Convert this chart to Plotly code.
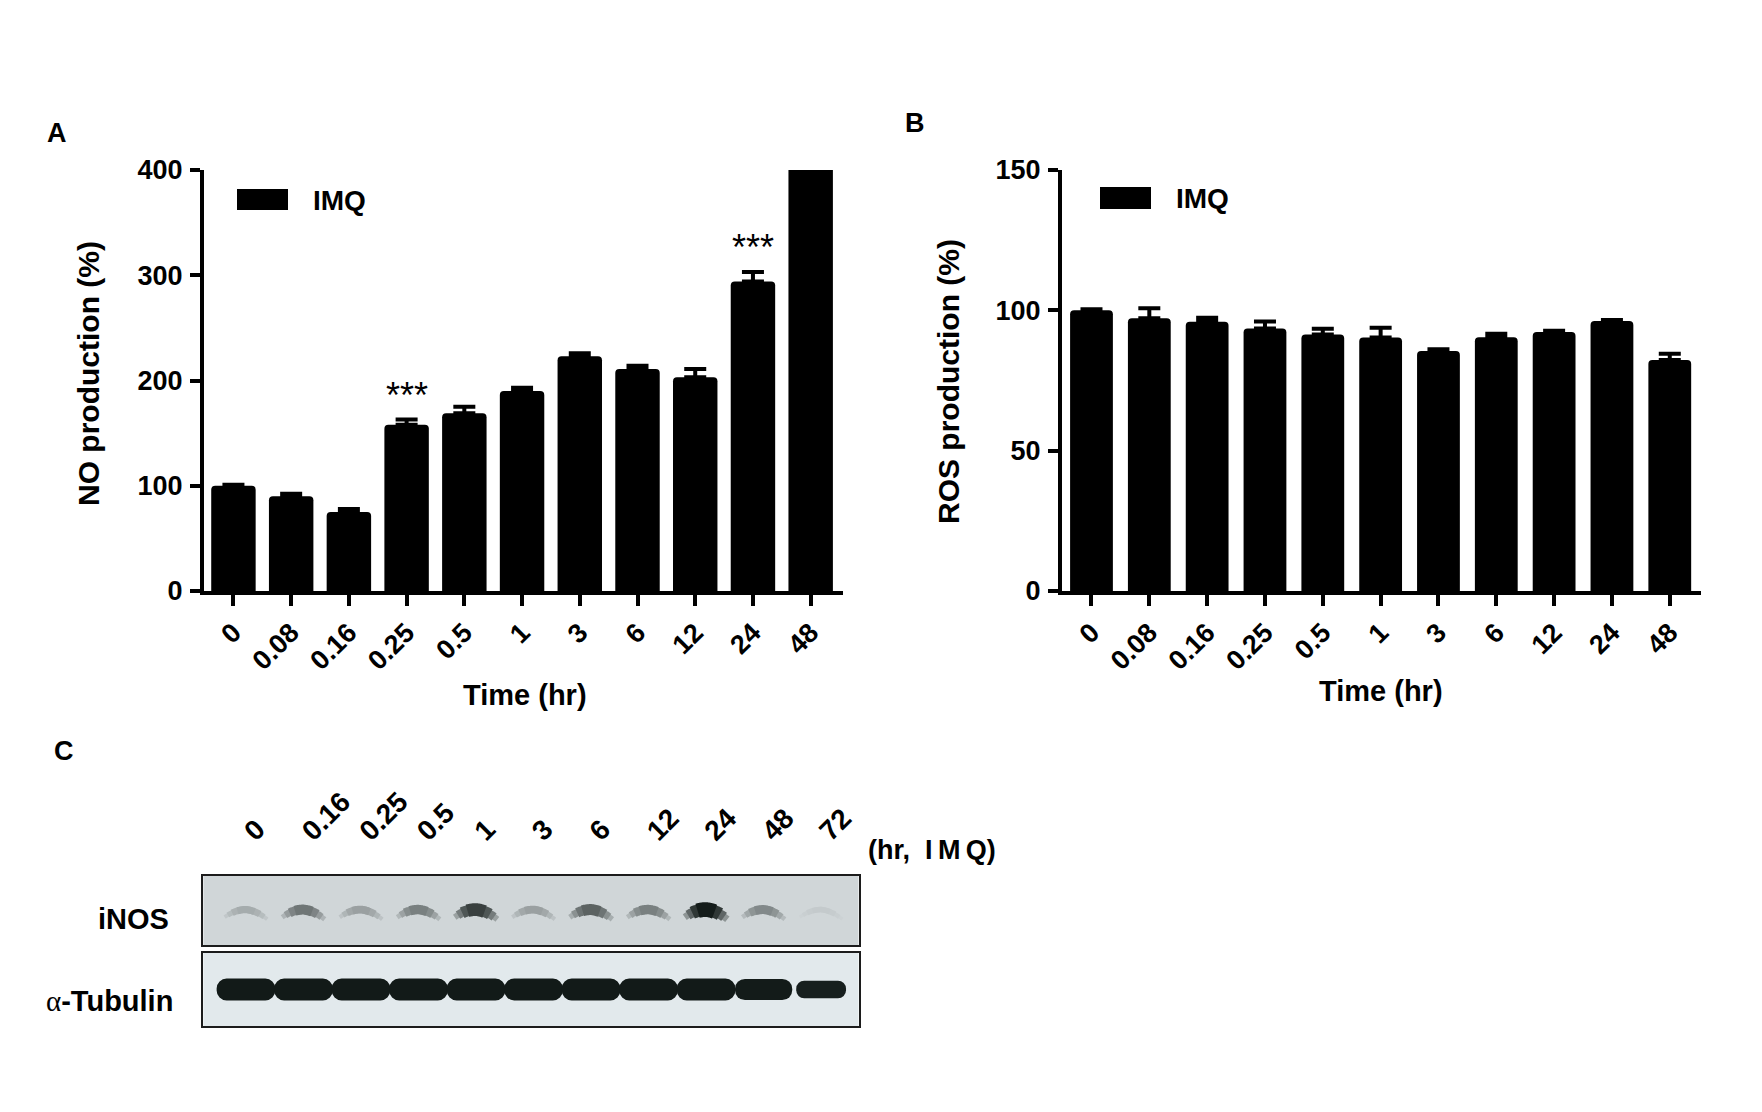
import numpy as np
import plotly.graph_objects as go

# ---------------- data ----------------
time_labels = ["0", "0.08", "0.16", "0.25", "0.5", "1", "3", "6", "12", "24", "48"]
no_values = [100, 90, 75, 158, 169, 190, 223, 211, 203, 294, 430]
no_errors = [1, 2.5, 3, 5, 6, 3, 3, 3, 8, 9, 0]
ros_values = [100, 97.2, 95.9, 93.5, 91.4, 90.3, 85.5, 90.4, 92.3, 96.2, 82.3]
ros_errors = [0.4, 3.5, 1.5, 2.5, 2.0, 3.5, 0.6, 1.3, 0.4, 0.4, 2.2]
no_yticks = [0, 100, 200, 300, 400]
ros_yticks = [0, 50, 100, 150]
signif_times = ["0.25", "24"]
signif_text = "***"

blot_lanes = ["0", "0.16", "0.25", "0.5", "1", "3", "6", "12", "24", "48", "72"]
inos_signal = [0.22, 0.50, 0.28, 0.45, 0.78, 0.28, 0.60, 0.45, 0.97, 0.40, 0.06]
tubulin_signal = [1.0, 1.0, 1.0, 1.0, 1.0, 1.0, 1.0, 1.0, 1.0, 0.97, 0.80]

# ---------------- layout helpers ----------------
# The page body keeps its default 8 px margin, so the figure is shrunk by
# 16 px and every reference-pixel position is shifted by 8 px.
OFF = 8
W, H = 1762 - 2 * OFF, 1112 - 2 * OFF
FONT = "Liberation Sans, Arial, sans-serif"


def px(x):
    return (x - OFF) / W


def py(y):
    return (H - (y - OFF)) / H


fig = go.Figure()

err_style = dict(type="data", symmetric=False, thickness=4, width=11, color="black")

fig.add_trace(go.Bar(
    x=time_labels, y=no_values, xaxis="x", yaxis="y", width=0.77,
    marker=dict(color="black", line=dict(width=0), cornerradius=4),
    error_y=dict(array=no_errors, arrayminus=[0] * len(no_errors), **err_style),
    showlegend=False, hoverinfo="skip"))

fig.add_trace(go.Bar(
    x=time_labels, y=ros_values, xaxis="x2", yaxis="y2", width=0.74,
    marker=dict(color="black", line=dict(width=0), cornerradius=4),
    error_y=dict(array=ros_errors, arrayminus=[0] * len(ros_errors), **err_style),
    showlegend=False, hoverinfo="skip"))

# ---------------- western blot (panel C) ----------------
inos_bg = np.array([208, 214, 216])
tub_bg = np.array([226, 233, 236])
dark = np.array([14, 22, 20])


def shade(bg, d):
    c = bg * (1 - d) + dark * d
    return "rgb(%d,%d,%d)" % tuple(int(round(v)) for v in c)


lane_idx = np.arange(len(blot_lanes))
for i, d in zip(lane_idx, inos_signal):
    for span, wbase, wgain, frac in [(1.0, 3, 4, 0.35), (0.85, 4, 6, 0.6), (0.65, 5, 8, 0.85),
                                     (0.4, 5, 10, 1.0)]:
        t = np.linspace(-span, span, 25)
        xs = i + 0.37 * t
        ys = 0.40 + 0.11 * (1 - t ** 2) - 0.03 * np.clip(t, 0, None)
        fig.add_trace(go.Scatter(x=xs, y=ys, xaxis="x3", yaxis="y3", mode="lines",
                                 line=dict(color=shade(inos_bg, d * frac), width=wbase + wgain * d,
                                           shape="spline"),
                                 showlegend=False, hoverinfo="skip"))

tub_heights = [0.30 * s for s in tubulin_signal]
tub_bases = [0.50 - h / 2 for h in tub_heights]
tub_widths = [0.25 + 0.77 * s for s in tubulin_signal]
fig.add_trace(go.Bar(
    x=lane_idx, y=tub_heights, base=tub_bases, width=tub_widths, xaxis="x4", yaxis="y4",
    marker=dict(color=[shade(tub_bg, 0.86 + 0.12 * s) for s in tubulin_signal], line=dict(width=0),
                cornerradius=10),
    showlegend=False, hoverinfo="skip"))

# ---------------- axes ----------------
bold = dict(family=FONT, size=27, color="black", weight="bold")
axis_common = dict(showline=True, linewidth=4, linecolor="black", ticks="outside",
                   tickwidth=4, tickcolor="black", showgrid=False, zeroline=False,
                   automargin=False)
box_common = dict(showline=True, mirror=True, linewidth=2, linecolor="#1c1c1c",
                  showgrid=False, zeroline=False, automargin=False)

dom_a = [px(204), px(843)]
dom_b = [px(1062), px(1701)]
dom_y = [py(591), py(170)]

fig.update_layout(
    xaxis=dict(domain=dom_a, anchor="y", type="category", range=[-0.51, 10.56], ticklen=11,
               tickangle=-45, tickfont=bold, **axis_common),
    yaxis=dict(domain=dom_y, anchor="x", range=[0, 400], tickvals=no_yticks, ticklen=10,
               ticklabelstandoff=2, tickfont=bold, **axis_common),
    xaxis2=dict(domain=dom_b, anchor="y2", type="category", range=[-0.51, 10.54], ticklen=11,
                tickangle=-45, tickfont=bold, **axis_common),
    yaxis2=dict(domain=dom_y, anchor="x2", range=[0, 150], tickvals=ros_yticks, ticklen=10,
                ticklabelstandoff=2, tickfont=bold, **axis_common),
    xaxis3=dict(domain=[px(203.4), px(858.5)], anchor="y3", side="top", range=[-0.74, 10.65],
                tickvals=list(lane_idx), ticktext=blot_lanes, tickangle=-45,
                tickfont=dict(family=FONT, size=28, color="black", weight="bold"),
                ticks="outside", ticklen=16, tickcolor="rgba(0,0,0,0)", **box_common),
    yaxis3=dict(domain=[py(945), py(875.5)], anchor="x3", range=[0, 1], showticklabels=False,
                ticks="", **box_common),
    xaxis4=dict(domain=[px(203.4), px(858.5)], anchor="y4", range=[-0.74, 10.65],
                showticklabels=False, ticks="", **box_common),
    yaxis4=dict(domain=[py(1026), py(953)], anchor="x4", range=[0, 1], showticklabels=False,
                ticks="", **box_common),
)

shapes = [
    dict(type="rect", xref="x3 domain", yref="y3 domain", x0=0, x1=1, y0=0, y1=1,
         fillcolor="rgb(208,214,216)", line=dict(width=0), layer="below"),
    dict(type="rect", xref="x4 domain", yref="y4 domain", x0=0, x1=1, y0=0, y1=1,
         fillcolor="rgb(226,233,236)", line=dict(width=0), layer="below"),
    # legend swatches
    dict(type="rect", xref="paper", yref="paper", x0=px(237), x1=px(288), y0=py(210), y1=py(189),
         fillcolor="black", line=dict(width=0)),
    dict(type="rect", xref="paper", yref="paper", x0=px(1100), x1=px(1151), y0=py(209), y1=py(187),
         fillcolor="black", line=dict(width=0)),
]
fig.update_layout(shapes=shapes)

ann = []


def text(x, y, s, size, weight="bold", angle=0, xanchor="center", yanchor="middle", **kw):
    ann.append(dict(x=x, y=y, xref="paper", yref="paper", text=s, showarrow=False,
                    textangle=angle, xanchor=xanchor, yanchor=yanchor,
                    font=dict(family=FONT, size=size, color="black", weight=weight), **kw))


# panel letters
text(px(57), py(133), "A", 27)
text(px(915), py(123), "B", 27)
text(px(63.5), py(751), "C", 27)
# axis titles
text(px(89), py(374), "NO production (%)", 30, angle=-90)
text(px(948), py(382), "ROS production (%)", 30, angle=-90)
text(px(524.5), py(695), "Time (hr)", 29)
text(px(1380.5), py(691), "Time (hr)", 29)
# legends
text(px(311), py(200), "IMQ", 28, xanchor="left")
text(px(1174), py(198), "IMQ", 28, xanchor="left")
# blot labels
text(px(866), py(850), "(hr,\u00a0\u00a0I\u2009M\u2009Q)", 27, xanchor="left")
text(px(171), py(919), "iNOS", 29, xanchor="right")
text(px(175), py(1001),
     "<span style='font-family:Liberation Serif, Times New Roman, serif;font-weight:normal'>\u03b1</span>-Tubulin",
     29, xanchor="right")

# significance marks from data
for lab in signif_times:
    k = time_labels.index(lab)
    ann.append(dict(x=k, y=no_values[k] + no_errors[k] + 23, xref="x", yref="y", text=signif_text,
                    showarrow=False, yanchor="middle",
                    font=dict(family=FONT, size=36, color="black")))

fig.update_layout(annotations=ann)

fig.update_layout(width=W, height=H, margin=dict(l=0, r=0, t=0, b=0, autoexpand=False),
                  paper_bgcolor="white", plot_bgcolor="white", bargap=0.2,
                  hovermode=False, showlegend=False)

fig.write_html("out.html")
